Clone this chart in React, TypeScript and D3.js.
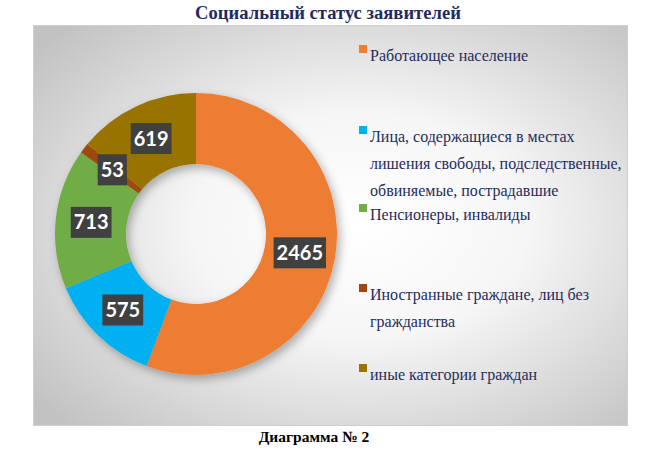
import React, { useMemo } from 'react';
import { pie, arc, PieArcDatum } from 'd3';

// data (clockwise from 12 o'clock)
const categories = [
  'Работающее население',
  'Лица, содержащиеся в местах лишения свободы, подследственные, обвиняемые, пострадавшие',
  'Пенсионеры, инвалиды',
  'Иностранные граждане, лиц без гражданства',
  'иные категории граждан',
];
const values = [2465, 575, 713, 53, 619];
const colors = ['#ED7D31', '#00B0F0', '#70AD47', '#9E480E', '#997300'];
// legend text as it wraps in the picture
const legendLines = [
  ['Работающее население'],
  ['Лица, содержащиеся в местах', 'лишения свободы, подследственные,', 'обвиняемые, пострадавшие'],
  ['Пенсионеры, инвалиды'],
  ['Иностранные граждане, лиц без', 'гражданства'],
  ['иные категории граждан'],
];
const legendY = [61, 142, 220, 300, 380];

const W = 658;
const H = 453;
const cx = 196;
const cy = 234;
const outerR = 141;
const innerR = 70;

export default function App() {
  const arcs = useMemo(() => {
    const gen = pie<number>().sort(null).value(d => d);
    return gen(values);
  }, []);

  const arcPath = arc<PieArcDatum<number>>().innerRadius(innerR).outerRadius(outerR);
  const labelArc = arc<PieArcDatum<number>>()
    .innerRadius((innerR + outerR) / 2)
    .outerRadius((innerR + outerR) / 2);

  return (
    <svg
      width={W}
      height={H}
      viewBox={`0 0 ${W} ${H}`}
      style={{ position: 'absolute', left: 0, top: 0, background: '#fff' }}
    >
      <defs>
        <radialGradient id="bg" cx="55%" cy="50%" r="70%">
          <stop offset="0%" stopColor="#ffffff" />
          <stop offset="40%" stopColor="#f6f6f6" />
          <stop offset="100%" stopColor="#c2c2c2" />
        </radialGradient>
        <filter id="shadow" x="-20%" y="-20%" width="140%" height="140%">
          <feDropShadow dx="3" dy="4" stdDeviation="5" floodColor="#000" floodOpacity="0.3" />
        </filter>
      </defs>

      <text
        x={328}
        y={19}
        textAnchor="middle"
        fontFamily="'Liberation Serif', 'Times New Roman', serif"
        fontWeight="bold"
        fontSize={18.6}
        fill="#1F2B5E"
      >
        Социальный статус заявителей
      </text>

      <rect x={33.5} y={25.5} width={594} height={400} fill="url(#bg)" stroke="#cfcfcf" />

      <g transform={`translate(${cx},${cy})`}>
        <g filter="url(#shadow)">
          {arcs.map((a, i) => (
            <path key={i} d={arcPath(a) || ''} fill={colors[i]} />
          ))}
        </g>
        {arcs.map((a, i) => {
          const [lx, ly] = labelArc.centroid(a);
          const txt = String(values[i]);
          const bw = txt.length * 11.6 + 6;
          const bh = 31;
          return (
            <g key={i} transform={`translate(${lx},${ly})`}>
              <rect x={-bw / 2} y={-bh / 2} width={bw} height={bh} fill="#404040" />
              <text
                y={7}
                textAnchor="middle"
                fontFamily="Lato, 'Open Sans', sans-serif"
                fontWeight="bold"
                fontSize={20}
                fill="#fff"
              >
                {txt}
              </text>
            </g>
          );
        })}
      </g>

      <g fontFamily="'Liberation Serif', 'Times New Roman', serif" fontSize={16} fill="#1F2D5C">
        {categories.map((c, i) => (
          <g key={c}>
            <rect x={359} y={legendY[i] - 16} width={8} height={8} fill={colors[i]} />
            {legendLines[i].map((ln, j) => (
              <text key={j} x={370} y={legendY[i] + j * 27}>
                {ln}
              </text>
            ))}
          </g>
        ))}
      </g>

      <text
        x={314}
        y={442}
        textAnchor="middle"
        fontFamily="'Liberation Serif', 'Times New Roman', serif"
        fontWeight="bold"
        fontSize={15.5}
        fill="#000"
      >
        Диаграмма № 2
      </text>
    </svg>
  );
}
